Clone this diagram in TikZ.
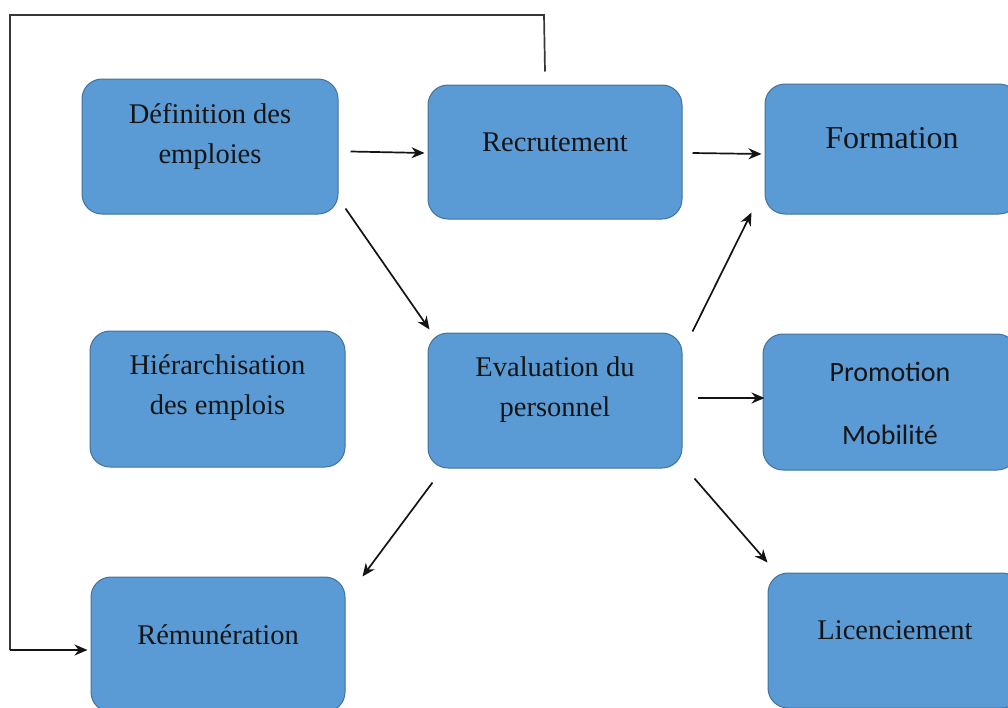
\documentclass[tikz,border=0pt]{standalone}
\usepackage{fontspec}
\setmainfont{Liberation Serif}
\newfontfamily\calibri{Carlito}
\usetikzlibrary{arrows.meta}
\definecolor{boxfill}{HTML}{5B9BD5}
\definecolor{boxline}{HTML}{41719C}
\definecolor{ink}{HTML}{141414}
\tikzset{
  box/.style={rectangle, rounded corners=20pt, fill=boxfill, draw=boxline, line width=1pt,
    minimum width=#1, inner sep=0pt},
  box/.default=254pt,
  txt/.style={text=ink, align=center, font=\fontsize{28.5}{40}\selectfont},
  conn/.style={line width=1.7pt, draw=ink, -{Stealth[length=13pt,width=11pt]}},
  loopline/.style={line width=1.7pt, draw=ink!85},
}
\begin{document}
\begin{tikzpicture}[x=1pt,y=-1pt]
\useasboundingbox (0,0) rectangle (1008,707);
\clip (0,0) rectangle (1008,707);
% boxes
\node[box=256pt, minimum height=135pt,
  label={[txt, yshift=10.5pt]center:D\'efinition des\\emploies}] (def) at (210,146.5) {};
\node[box, minimum height=134pt,
  label={[txt, yshift=10pt]center:Recrutement}] (recr) at (555,152) {};
\node[box, minimum height=130pt,
  label={[txt, yshift=11pt, font=\fontsize{32}{40}\selectfont]center:Formation}] (form) at (892,149) {};
\node[box=255pt, minimum height=136pt,
  label={[txt, yshift=11pt]center:Hi\'erarchisation\\des emplois}] (hier) at (217.5,399) {};
\node[box, minimum height=135pt,
  label={[txt, yshift=10.5pt]center:Evaluation du\\personnel}] (eval) at (555,400.5) {};
\node[box, minimum height=136pt,
  label={[txt, yshift=-1pt, font=\calibri\fontsize{28}{63}\selectfont]center:Promotion\\Mobilit\'e}] (promo) at (890,402) {};
\node[box, minimum height=135pt,
  label={[txt, yshift=10pt]center:R\'emun\'eration}] (rem) at (218,644.5) {};
\node[box, minimum height=135pt,
  label={[txt, yshift=10pt]center:Licenciement}] (lic) at (895,640.5) {};
% connectors
\draw[conn] ([xshift=12pt,yshift=-5pt]def.east) -- ([xshift=-3pt,yshift=-1pt]recr.west);
\draw[conn] ([xshift=10pt,yshift=-1pt]recr.east) -- ([xshift=-3pt,yshift=-5pt]form.west);
\draw[conn] ([xshift=15pt,yshift=2.5pt]eval.east) -- ([xshift=2pt,yshift=4pt]promo.west);
\draw[conn] ([xshift=7pt,yshift=6pt]def.south east) -- ([xshift=2pt,yshift=3pt]eval.north west);
\draw[conn] ([xshift=10pt,yshift=1pt]eval.north east) -- ([xshift=-13pt,yshift=2pt]form.south west);
\draw[conn] ([xshift=5pt,yshift=-14pt]eval.south west) -- ([xshift=17pt]rem.north east);
\draw[conn] ([xshift=12pt,yshift=-10pt]eval.south east) -- ([yshift=10pt]lic.north west);
% feedback loop
\coordinate (tr) at (544,15);
\coordinate (tl) at (10,15);
\coordinate (bl) at (10,650);
\draw[loopline] ([xshift=-10pt,yshift=13pt]recr.north) -- (tr) -- (tl) -- (bl);
\draw[conn] (bl) -- ([xshift=-3pt,yshift=-5.5pt]rem.west);
\end{tikzpicture}
\end{document}
